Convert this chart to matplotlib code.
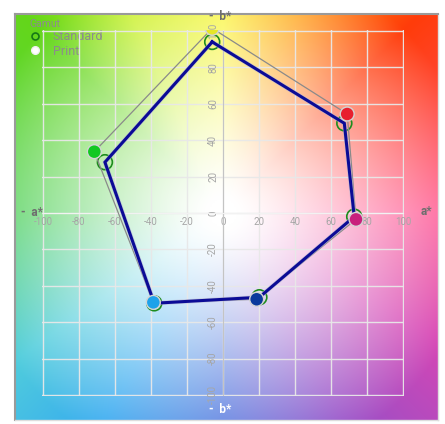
import numpy as np
import matplotlib
matplotlib.use("Agg")
import matplotlib.pyplot as plt
from matplotlib.lines import Line2D
import matplotlib.patheffects as pe

plt.rcParams['font.family'] = ['Roboto', 'DejaVu Sans']

# Standard gamut (hollow circles, joined by the navy line)
std_a = [-6, 67.4, 72.9, 20.2, -38.2, -65.6]
std_b = [94, 49.3, -2, -46.3, -49.6, 27.9]

# Print gamut (filled circles, joined by the thin gray line)
prn_a = [-6, 69, 73.9, 18.7, -38.7, -71.5]
prn_b = [101.5, 54.4, -3.5, -47.4, -49.1, 33.7]
prn_colors = ['#e6e628', '#e8202e', '#c8207c', '#0a3a9c', '#1ea2ea', '#12c822']

ticks = [-100, -80, -60, -40, -20, 0, 20, 40, 60, 80, 100]

W, H = 445, 424
fig = plt.figure(figsize=(W / 100, H / 100), dpi=100)

# background: Lab-like colour plane
sx, sy = 1.8, 1.82
cx, cy = 223, 213
bx0, bx1 = (15 - cx) / sx, (438 - cx) / sx
by0, by1 = (cy - 420) / sy, (cy - 14) / sy
bg = fig.add_axes([15 / W, (H - 420) / H, 423 / W, 406 / H])
aa, bb = np.meshgrid(np.linspace(bx0, bx1, 300), np.linspace(by1, by0, 300))
ang = np.degrees(np.arctan2(bb, aa)) % 360
rad = np.hypot(aa, bb)
key_ang = [0, 30, 45, 70, 90, 115, 135, 180, 215, 240, 270, 300, 330, 360]
key_rgb = np.array([
    (255, 85, 145), (255, 70, 50), (255, 60, 10), (255, 165, 20), (250, 245, 45),
    (200, 240, 35), (100, 215, 25), (85, 210, 95), (80, 205, 220), (55, 170, 240),
    (70, 110, 220), (150, 80, 200), (215, 70, 180), (255, 85, 145)]) / 255.0
s = np.clip((rad - 8) / 135, 0, 1) ** 1.25
img = np.zeros(aa.shape + (3,))
for k in range(3):
    col = np.interp(ang, key_ang, key_rgb[:, k])
    img[..., k] = 1 - s * (1 - col)
bg.imshow(img, extent=[bx0, bx1, by0, by1], aspect='auto', interpolation='bilinear')
bg.set_xlim(bx0, bx1)
bg.set_ylim(by0, by1)
bg.set_xticks([])
bg.set_yticks([])
for side in ['top', 'left']:
    bg.spines[side].set_color('#9a9a9a')
    bg.spines[side].set_linewidth(1.5)
for side in ['right', 'bottom']:
    bg.spines[side].set_color('#dddddd')
    bg.spines[side].set_linewidth(1.0)

# axis names
name_kw = dict(color='#6e6e6e', fontsize=8.5, fontweight='bold', va='center')
bg.text(-112, 0.5, '-  a*', ha='left', **name_kw)
bg.text(113, 1, 'a*', ha='center', **name_kw)
bg.text(-1.5, 108, '-  b*', ha='center', **name_kw)
bg.text(-1.5, -108, '-  b*', ha='center', color='white', fontsize=8.5,
        fontweight='bold', va='center')

# legend
handles = [
    Line2D([], [], ls='none', marker='o', ms=5, mfc='none', mec='#167a16', mew=1.2),
    Line2D([], [], ls='none', marker='o', ms=5.5, mfc='white', mec='#f0f0f0'),
]
leg = bg.legend(handles, ['Standard', 'Print'], title='Gamut', loc='upper left',
                bbox_to_anchor=(0.01, 1.012), frameon=False, fontsize=9,
                title_fontsize=7.5, labelcolor='#8c8c8c', handlelength=1.0,
                handletextpad=0.9, labelspacing=0.1, borderpad=0.3,
                alignment='left')
leg.get_title().set_color('#8c8c8c')

# main plot
lim = 100.5
ax = fig.add_axes([(cx - lim * sx) / W, (H - (cy + lim * sy)) / H,
                   2 * lim * sx / W, 2 * lim * sy / H])
ax.patch.set_alpha(0)
ax.set_xlim(-lim, lim)
ax.set_ylim(-lim, lim)
ax.set_xticks(ticks)
ax.set_yticks(ticks)
ax.set_xticklabels([str(t) for t in ticks])
ax.set_yticklabels([str(t) for t in ticks])
ax.grid(True, color='#e8e8e8', lw=1.0, alpha=0.95)
ax.set_axisbelow(True)
for side in ['top', 'right']:
    ax.spines[side].set_visible(False)
ax.spines['bottom'].set_position(('data', 0))
ax.spines['left'].set_position(('data', 0))
ax.spines['bottom'].set_color('#f2f2f2')
ax.spines['left'].set_color('#c4c4c4')
ax.spines['bottom'].set_bounds(-100, 100)
ax.spines['left'].set_bounds(-100, 100)
ax.tick_params(axis='both', length=0, labelsize=7, labelcolor='#a6a6a6')
ax.tick_params(axis='x', pad=3)
ax.tick_params(axis='y', pad=3.5, labelrotation=90)
for lab in ax.get_yticklabels():
    lab.set_va('center')

ax.scatter(std_a, std_b, s=115, facecolors='none', edgecolors='#1e8c1e',
           linewidths=1.2, zorder=3)
ax.plot(prn_a + prn_a[:1], prn_b + prn_b[:1], color='#8a8a8a', lw=0.9, zorder=4)
ax.plot(std_a + std_a[:1], std_b + std_b[:1], color='#0b0b96', lw=2.2, zorder=5,
        solid_joinstyle='miter',
        path_effects=[pe.Stroke(linewidth=3.2, foreground='#b8b8d0', alpha=0.6), pe.Normal()])
ax.scatter(prn_a, prn_b, s=100, c=prn_colors, edgecolors='#d4d4d4',
           linewidths=1.0, zorder=6)

fig.savefig('out.png', dpi=100)
